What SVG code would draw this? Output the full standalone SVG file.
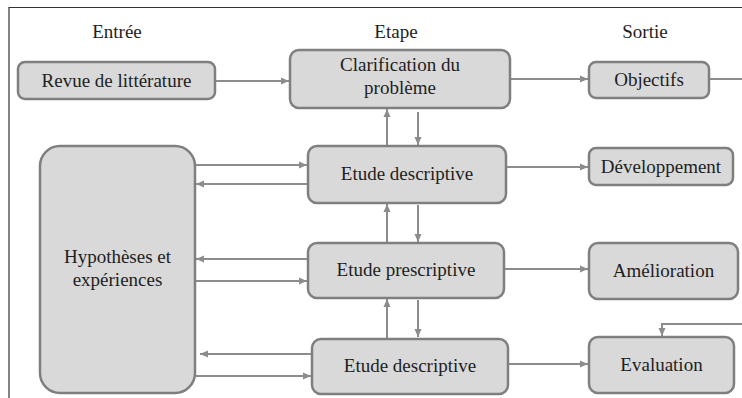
<svg xmlns="http://www.w3.org/2000/svg" width="742" height="398" viewBox="0 0 742 398">
<style>
.box{fill:#d9d9d9;stroke:#7f7f7f;stroke-width:2.5}
.t{font-family:"Liberation Serif","Times New Roman",serif;font-size:19px;fill:#1e1e1e;text-anchor:middle}
.c{fill:none;stroke:#8c8c8c;stroke-width:2}
.a{marker-end:url(#ah)}
</style>
<defs>
<marker id="ah" markerUnits="userSpaceOnUse" markerWidth="9" markerHeight="8" refX="8" refY="4" orient="auto">
<path d="M0,0.5 L8,4 L0,7.5 z" fill="#8c8c8c"/>
</marker>
</defs>
<rect x="0" y="0" width="742" height="398" fill="#fff"/>
<g id="frame" fill="none" stroke="#333" stroke-width="1.2">
<path d="M9,398 V7.5 H742"/>
</g>
<g id="headers">
<text class="t" x="117" y="38">Entrée</text>
<text class="t" x="396" y="38">Etape</text>
<text class="t" x="645" y="38">Sortie</text>
</g>
<g id="connectors">
<path class="c a" d="M215,81 H289"/>
<path class="c a" d="M510,79 H588"/>
<path class="c" d="M709,79 H742"/>
<path class="c a" d="M387,146 V109"/>
<path class="c a" d="M418,112 V145"/>
<path class="c a" d="M195,165 H307"/>
<path class="c a" d="M308,184 H196"/>
<path class="c a" d="M506,167 H588"/>
<path class="c a" d="M387,243 V204"/>
<path class="c a" d="M418,205 V242"/>
<path class="c a" d="M308,259 H196"/>
<path class="c a" d="M195,281 H307"/>
<path class="c a" d="M504,269 H588"/>
<path class="c a" d="M387,339 V299"/>
<path class="c a" d="M418,300 V337"/>
<path class="c a" d="M312,354 H200"/>
<path class="c a" d="M195,376 H311"/>
<path class="c a" d="M508,364 H588"/>
<path class="c a" d="M742,324 H662 V336"/>
</g>
<g id="revue">
<rect class="box" x="18" y="62" width="197" height="37" rx="7"/>
<text class="t" x="116.5" y="87">Revue de littérature</text>
</g>
<g id="clarification">
<rect class="box" x="290" y="50" width="220" height="58" rx="9"/>
<text class="t" x="400" y="71">Clarification du</text>
<text class="t" x="400" y="94">problème</text>
</g>
<g id="objectifs">
<rect class="box" x="589" y="62" width="120" height="36" rx="7"/>
<text class="t" x="649" y="86">Objectifs</text>
</g>
<g id="hypotheses">
<rect class="box" x="40" y="146" width="155" height="247" rx="20"/>
<text class="t" x="117.5" y="263">Hypothèses et</text>
<text class="t" x="117.5" y="286">expériences</text>
</g>
<g id="etude1">
<rect class="box" x="308" y="146" width="198" height="57" rx="9"/>
<text class="t" x="407" y="180">Etude descriptive</text>
</g>
<g id="developpement">
<rect class="box" x="589" y="148" width="144" height="37" rx="7"/>
<text class="t" x="661" y="173">Développement</text>
</g>
<g id="prescriptive">
<rect class="box" x="308" y="243" width="196" height="55" rx="9"/>
<text class="t" x="406" y="276">Etude prescriptive</text>
</g>
<g id="amelioration">
<rect class="box" x="589" y="243" width="149" height="56" rx="9"/>
<text class="t" x="663.5" y="277">Amélioration</text>
</g>
<g id="etude2">
<rect class="box" x="312" y="339" width="196" height="55" rx="9"/>
<text class="t" x="410" y="372">Etude descriptive</text>
</g>
<g id="evaluation">
<rect class="box" x="589" y="337" width="145" height="56" rx="9"/>
<text class="t" x="661.5" y="371">Evaluation</text>
</g>
</svg>
